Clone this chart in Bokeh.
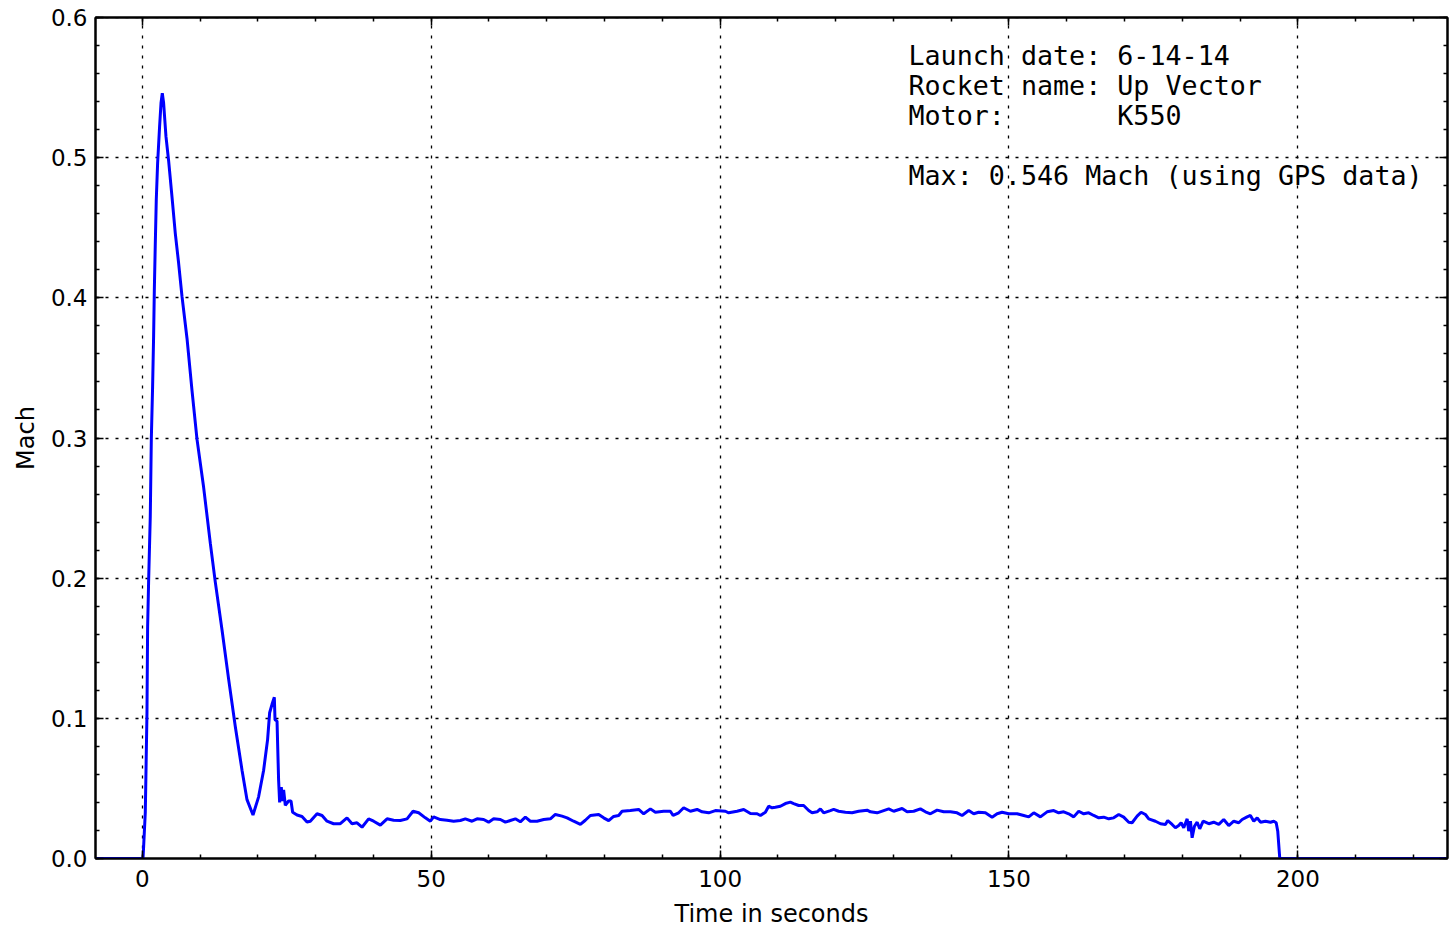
from bokeh.plotting import figure
from bokeh.models import Range1d, LinearAxis, SingleIntervalTicker, NumeralTickFormatter, ColumnDataSource
from bokeh.core.properties import value
from bokeh.embed import file_html
from bokeh.resources import INLINE

# ---- data ----
time_s = [-8.1, 0.0, 0.12, 0.23, 0.52, 0.81, 0.92, 1.09, 1.38, 1.56, 1.78, 1.96, 2.08, 2.25, 2.42, 2.65,
          2.99, 3.24, 3.46, 3.69, 4.10, 4.55, 5.14, 5.71, 6.28, 6.87, 7.74, 8.60, 9.47, 10.61, 11.77,
          12.64, 13.80, 14.94, 16.10, 17.26, 18.12, 19.16, 20.13, 21.00, 21.69, 22.04, 22.45, 22.85,
          22.97, 23.32, 23.59, 23.77, 24.06, 24.23, 24.46, 24.75, 25.32, 25.74, 26.02, 26.78, 27.64,
          28.51, 29.08, 30.24, 31.11, 31.97, 33.11, 34.27, 35.43, 36.30, 37.16, 38.03, 39.17, 40.04,
          41.20, 42.36, 43.50, 44.66, 45.82, 46.86, 47.83, 48.99, 49.85, 50.42, 51.58, 52.74, 53.89,
          55.05, 55.91, 57.07, 57.94, 59.08, 59.94, 60.81, 61.97, 62.84, 63.70, 64.57, 65.43, 66.30,
          67.16, 68.32, 69.47, 70.63, 71.49, 72.65, 73.52, 74.66, 75.82, 76.68, 77.55, 78.99, 79.85,
          80.72, 81.58, 82.45, 83.04, 84.47, 85.91, 86.78, 87.94, 88.80, 90.24, 91.40, 91.87, 92.83,
          93.70, 94.86, 96.02, 96.88, 98.03, 99.19, 100.92, 101.49, 102.94, 104.09, 105.25, 106.41,
          106.98, 107.84, 108.41, 109.00, 109.57, 110.44, 111.30, 112.17, 112.74, 113.61, 114.47,
          115.34, 115.92, 116.79, 117.36, 117.93, 119.09, 119.66, 120.53, 121.69, 122.85, 123.99,
          125.45, 126.02, 127.18, 128.32, 129.19, 130.05, 131.50, 132.37, 133.51, 134.67, 135.54,
          136.40, 137.56, 138.71, 139.86, 141.02, 141.89, 143.03, 143.90, 144.76, 145.92, 147.08,
          147.95, 148.81, 149.96, 151.41, 152.55, 153.42, 154.29, 155.44, 156.60, 157.75, 158.61,
          159.48, 160.34, 161.21, 162.07, 162.94, 163.80, 164.67, 165.54, 166.40, 167.27, 168.13,
          169.00, 169.86, 170.73, 171.31, 172.18, 172.87, 173.62, 174.19, 175.35, 176.22, 177.08,
          177.48, 178.24, 178.81, 179.38, 179.80, 180.25, 180.84, 181.11, 181.41, 181.70, 182.10,
          182.57, 183.02, 183.61, 184.58, 185.44, 186.31, 187.17, 188.04, 188.91, 189.77, 190.36,
          191.22, 191.79, 192.37, 192.96, 193.53, 194.39, 195.26, 195.83, 196.25, 196.52, 196.87,
          225.9]
mach = [0.0, 0.0, 0.0, 0.0085, 0.033, 0.104, 0.165, 0.197, 0.244, 0.299, 0.336, 0.373, 0.405, 0.439,
        0.470, 0.496, 0.522, 0.539, 0.546, 0.539, 0.515, 0.498, 0.472, 0.446, 0.425, 0.401, 0.371,
        0.334, 0.299, 0.265, 0.225, 0.197, 0.163, 0.128, 0.094, 0.063, 0.042, 0.031, 0.044, 0.063,
        0.085, 0.104, 0.110, 0.115, 0.099, 0.098, 0.056, 0.040, 0.051, 0.041, 0.049, 0.038, 0.041,
        0.041, 0.033, 0.031, 0.030, 0.026, 0.0266, 0.0319, 0.0307, 0.0266, 0.0248, 0.0248, 0.0290,
        0.0248, 0.0255, 0.0223, 0.0283, 0.0266, 0.0238, 0.0283, 0.0273, 0.0271, 0.0283, 0.0337,
        0.0326, 0.0290, 0.0266, 0.0297, 0.0278, 0.0273, 0.0266, 0.0271, 0.0283, 0.0266, 0.0283,
        0.0278, 0.0259, 0.0283, 0.0278, 0.0259, 0.0271, 0.0283, 0.0262, 0.0295, 0.0266, 0.0266,
        0.0278, 0.0283, 0.0314, 0.0302, 0.0290, 0.0266, 0.0243, 0.0273, 0.0307, 0.0314, 0.0290,
        0.0270, 0.0300, 0.0307, 0.0337, 0.0342, 0.0350, 0.0319, 0.0354, 0.0330, 0.0337, 0.0337,
        0.0307, 0.0326, 0.0362, 0.0337, 0.0350, 0.0333, 0.0326, 0.0342, 0.0337, 0.0326, 0.0337,
        0.0350, 0.0321, 0.0319, 0.0307, 0.0330, 0.0373, 0.0362, 0.0366, 0.0373, 0.0392, 0.0402,
        0.0392, 0.0378, 0.0378, 0.0342, 0.0326, 0.0333, 0.0354, 0.0326, 0.0342, 0.0350, 0.0337,
        0.0330, 0.0326, 0.0337, 0.0345, 0.0333, 0.0326, 0.0342, 0.0354, 0.0337, 0.0357, 0.0333,
        0.0337, 0.0354, 0.0333, 0.0319, 0.0345, 0.0333, 0.0333, 0.0326, 0.0307, 0.0342, 0.0319,
        0.0330, 0.0326, 0.0295, 0.0319, 0.0330, 0.0319, 0.0319, 0.0307, 0.0297, 0.0326, 0.0297,
        0.0333, 0.0342, 0.0326, 0.0333, 0.0319, 0.0297, 0.0337, 0.0319, 0.0326, 0.0307, 0.0290,
        0.0295, 0.0283, 0.0290, 0.0314, 0.0295, 0.0259, 0.0255, 0.0302, 0.0330, 0.0314, 0.0283,
        0.0266, 0.0248, 0.0243, 0.0271, 0.0243, 0.0219, 0.0235, 0.0255, 0.0219, 0.0283, 0.0195,
        0.0266, 0.0148, 0.0230, 0.0259, 0.0212, 0.0266, 0.0248, 0.0259, 0.0243, 0.0278, 0.0235,
        0.0266, 0.0255, 0.0278, 0.0297, 0.0307, 0.0266, 0.0290, 0.0259, 0.0266, 0.0259, 0.0266,
        0.0255, 0.0195, 0.0, 0.0]

NBSP = "\u00a0"
info_lines = ["Launch date: 6-14-14",
              "Rocket name: Up Vector",
              "Motor:" + NBSP * 7 + "K550",
              "",
              "Max: 0.546 Mach (using GPS data)"]

x_major = 50
y_major = 0.1

FONT = "DejaVu Sans"

p = figure(width=1450, height=930,
           min_border_left=95, min_border_right=3, min_border_top=17, min_border_bottom=71,
           x_range=Range1d(-8.1, 225.9), y_range=Range1d(0, 0.6 + 1e-9),
           output_backend="svg", toolbar_location=None,
           x_axis_label="Time in seconds", y_axis_label="Mach")

p.background_fill_color = "white"
p.border_fill_color = "white"
p.outline_line_color = "black"
p.outline_line_width = 2

xt = SingleIntervalTicker(interval=x_major, num_minor_ticks=5)
yt = SingleIntervalTicker(interval=y_major, num_minor_ticks=5)

xa = p.below[0]
ya = p.left[0]
xa.ticker = xt
ya.ticker = yt
ya.formatter = NumeralTickFormatter(format="0.0")
for ax in (xa, ya):
    ax.major_tick_in = 8
    ax.major_tick_out = 0
    ax.minor_tick_in = 4
    ax.minor_tick_out = 0
    ax.axis_line_width = 2
    ax.major_tick_line_width = 1.5
    ax.minor_tick_line_width = 1.5
    ax.major_label_text_font = FONT
    ax.major_label_text_font_size = "23px"
    ax.major_label_text_color = "black"
    ax.axis_label_text_font = FONT
    ax.axis_label_text_font_size = "24px"
    ax.axis_label_text_font_style = "normal"
    ax.axis_label_text_color = "black"
xa.major_label_standoff = 11
xa.axis_label_standoff = 10
ya.major_label_standoff = 8
ya.axis_label_standoff = 8

p.xgrid.ticker = xt
p.ygrid.ticker = yt
for g in (p.xgrid, p.ygrid):
    g.grid_line_color = "black"
    g.grid_line_dash = "3 7"
    g.grid_line_width = 1.3

for loc, tick in (("above", SingleIntervalTicker(interval=x_major, num_minor_ticks=5)),
                  ("right", SingleIntervalTicker(interval=y_major, num_minor_ticks=5))):
    ax = LinearAxis(ticker=tick, major_label_text_font_size="1px", major_label_text_color=None,
                    major_label_standoff=0,
                    major_tick_in=8, major_tick_out=0, minor_tick_in=4, minor_tick_out=0,
                    axis_line_width=2, major_tick_line_width=1.5, minor_tick_line_width=1.5)
    p.add_layout(ax, loc)

p.line(time_s, mach, line_color="#0000ff", line_width=3)

step = 30 / 1402.8
src = ColumnDataSource(dict(x=[132.6] * len(info_lines),
                            y=[0.5731 - i * step for i in range(len(info_lines))],
                            t=info_lines))
p.text(x="x", y="y", text="t", source=src, text_font=value("DejaVu Sans Mono"),
       text_font_size="26.7px", text_baseline="middle", text_align="left", text_color="black")

open("out.html", "w").write(file_html(p, INLINE))
